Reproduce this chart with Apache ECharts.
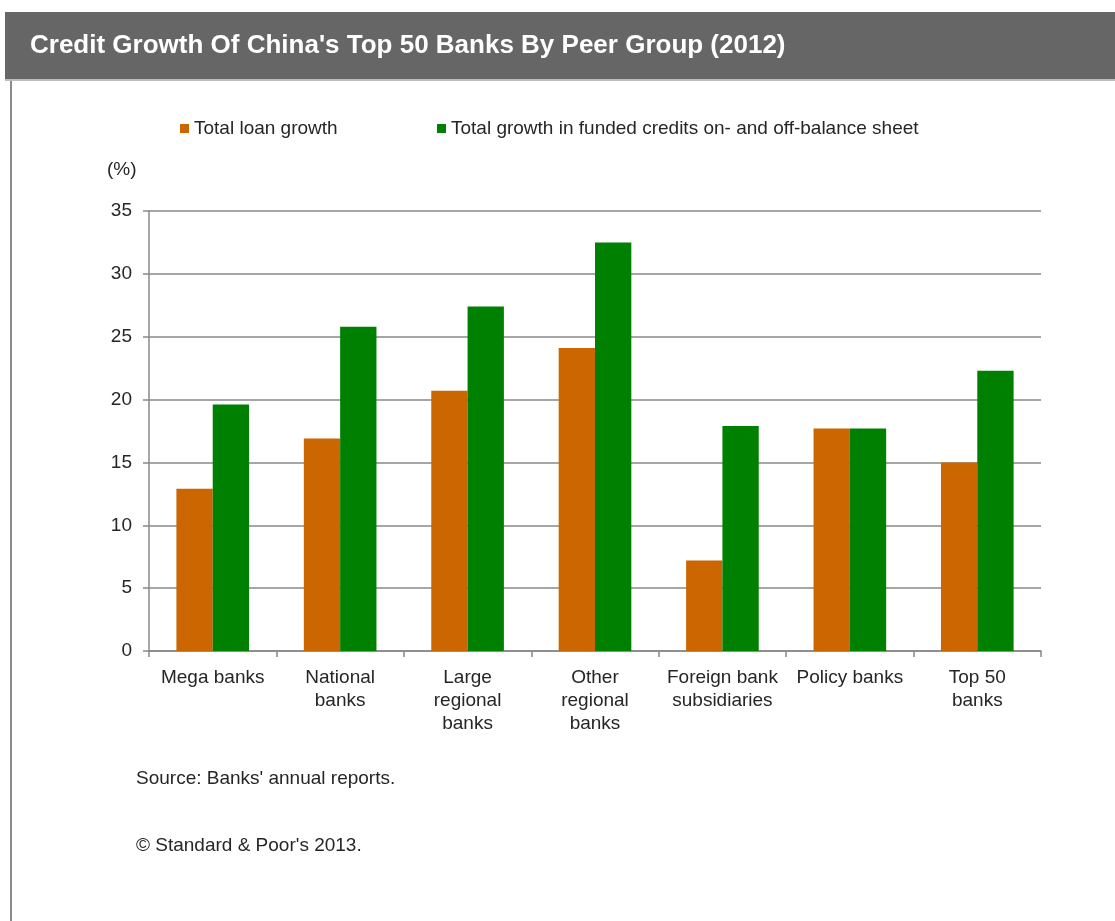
<!DOCTYPE html>
<html>
<head>
<meta charset="utf-8">
<title>Credit Growth Of China's Top 50 Banks By Peer Group (2012)</title>
<script src="https://cdn.jsdelivr.net/npm/echarts@6/dist/echarts.min.js"></script>
<style>
  html, body { margin: 0; padding: 0; background: #ffffff; }
  #chart { width: 1115px; height: 921px; }
</style>
</head>
<body>
<div id="chart"></div>
<script>
// Peer groups shown along the category axis
const categories = [
  'Mega banks',
  'National\nbanks',
  'Large\nregional\nbanks',
  'Other\nregional\nbanks',
  'Foreign bank\nsubsidiaries',
  'Policy banks',
  'Top 50\nbanks'
];

// Growth rates in 2012 (%)
const loanGrowth = [12.9, 16.9, 20.7, 24.1, 7.2, 17.7, 15.0];
const fundedCreditGrowth = [19.6, 25.8, 27.4, 32.5, 17.9, 17.7, 22.3];

const seriesNames = [
  'Total loan growth',
  'Total growth in funded credits on- and off-balance sheet'
];

// Value axis settings
const yMin = 0;
const yMax = 35;
const yStep = 5;

const titleText = "Credit Growth Of China's Top 50 Banks By Peer Group (2012)";
const unitText = '(%)';
const sourceText = "Source: Banks' annual reports.";
const copyrightText = "\u00A9 Standard & Poor's 2013.";

const FONT = "'Liberation Sans', Arial, sans-serif";
const FS = 19;
const TEXT_COLOR = '#262626';
const GRID_COLOR = '#888888';

const chart = echarts.init(document.getElementById('chart'), null, { renderer: 'canvas' });

chart.setOption({
  backgroundColor: '#ffffff',
  animation: false,
  textStyle: { fontFamily: FONT },
  graphic: [
    // Header band
    { type: 'rect', left: 5, top: 12, shape: { width: 1110, height: 67 },
      style: { fill: '#666666' }, silent: true },
    { type: 'rect', left: 5, top: 79, shape: { width: 1110, height: 2 },
      style: { fill: '#bdbdbd' }, silent: true },
    { type: 'text', left: 30, top: 33,
      style: { text: titleText, fill: '#ffffff', font: 'bold 26px ' + FONT } },
    // Left frame line
    { type: 'rect', left: 10, top: 81, shape: { width: 2, height: 840 },
      style: { fill: '#8a8a8a' }, silent: true },
    // Unit label
    { type: 'text', left: 107, top: 160,
      style: { text: unitText, fill: TEXT_COLOR, font: FS + 'px ' + FONT } },
    // Footer notes
    { type: 'text', left: 136, top: 769,
      style: { text: sourceText, fill: TEXT_COLOR, font: FS + 'px ' + FONT } },
    { type: 'text', left: 136, top: 836,
      style: { text: copyrightText, fill: TEXT_COLOR, font: FS + 'px ' + FONT } }
  ],
  legend: [
    {
      data: [seriesNames[0]],
      left: 180, top: 119, padding: 0,
      icon: 'rect', itemWidth: 9, itemHeight: 9,
      textStyle: { color: TEXT_COLOR, fontSize: FS, fontFamily: FONT },
      selectedMode: false
    },
    {
      data: [seriesNames[1]],
      left: 437, top: 119, padding: 0,
      icon: 'rect', itemWidth: 9, itemHeight: 9,
      textStyle: { color: TEXT_COLOR, fontSize: FS, fontFamily: FONT },
      selectedMode: false
    }
  ],
  grid: { left: 149, right: 74, top: 211, bottom: 270, containLabel: false },
  xAxis: {
    type: 'category',
    data: categories,
    axisLine: { show: true, lineStyle: { color: GRID_COLOR, width: 1.5 } },
    axisTick: { show: true, alignWithLabel: false, length: 6, lineStyle: { color: GRID_COLOR, width: 1.5 } },
    axisLabel: {
      interval: 0, margin: 15, color: TEXT_COLOR, fontSize: FS, lineHeight: 23,
      fontFamily: FONT
    },
    splitLine: { show: false }
  },
  yAxis: {
    type: 'value',
    min: yMin, max: yMax, interval: yStep,
    axisLine: { show: true, lineStyle: { color: GRID_COLOR, width: 1.5 } },
    axisTick: { show: true, length: 6, lineStyle: { color: GRID_COLOR, width: 1.5 } },
    axisLabel: { margin: 17, color: TEXT_COLOR, fontSize: FS, fontFamily: FONT },
    splitLine: { show: true, lineStyle: { color: GRID_COLOR, width: 1.5 } }
  },
  series: [
    {
      name: seriesNames[0],
      type: 'bar',
      data: loanGrowth,
      barGap: '0%',
      barCategoryGap: '43%',
      itemStyle: { color: '#cc6600' }
    },
    {
      name: seriesNames[1],
      type: 'bar',
      data: fundedCreditGrowth,
      barGap: '0%',
      barCategoryGap: '43%',
      itemStyle: { color: '#008000' }
    }
  ]
});
</script>
</body>
</html>
